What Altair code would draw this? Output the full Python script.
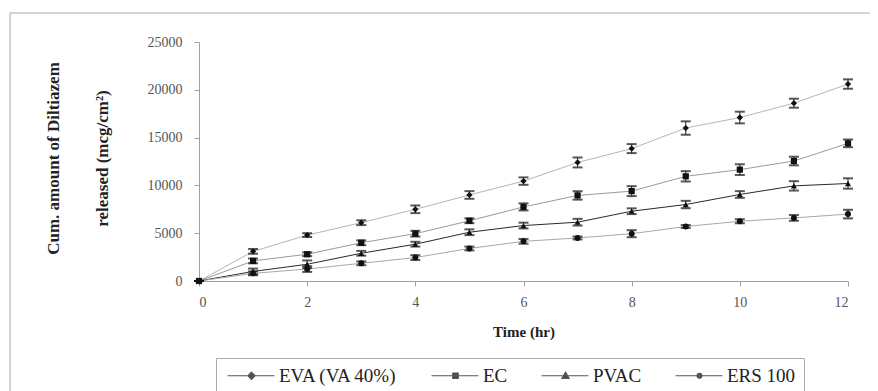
import altair as alt
import pandas as pd

hours = [0, 1, 2, 3, 4, 5, 6, 7, 8, 9, 10, 11, 12]
series_names = ["EVA (VA 40%)", "EC", "PVAC", "ERS 100"]

eva = [0, 3100, 4800, 6100, 7500, 9000, 10450, 12400, 13850, 16000, 17100, 18600, 20600]
ec = [0, 2100, 2800, 4000, 4950, 6300, 7750, 8950, 9400, 10950, 11650, 12550, 14400]
pvac = [0, 1000, 1750, 2900, 3850, 5100, 5800, 6150, 7300, 8000, 9050, 9950, 10200]
ers = [0, 800, 1250, 1850, 2450, 3400, 4150, 4500, 4950, 5700, 6250, 6600, 7000]

eva_err = [0, 250, 200, 250, 400, 400, 390, 520, 470, 700, 610, 470, 490]
ec_err = [0, 250, 200, 250, 300, 250, 370, 440, 520, 540, 560, 450, 400]
pvac_err = [0, 300, 400, 250, 250, 300, 300, 350, 300, 385, 350, 490, 540]
ers_err = [0, 200, 300, 200, 250, 200, 250, 150, 370, 150, 210, 300, 450]

values = [eva, ec, pvac, ers]
errors = [eva_err, ec_err, pvac_err, ers_err]

rows = []
for name, vals, errs in zip(series_names, values, errors):
    for t, v, e in zip(hours, vals, errs):
        rows.append({"time": t, "value": v, "lo": v - e, "hi": v + e,
                     "series": name, "series_leg": name})
df = pd.DataFrame(rows)

line_colors = ["#b5b5b5", "#9a9a9a", "#2a2a2a", "#a8a8a8"]
line_widths = [1.0, 1.0, 1.8, 1.0]
marker_shapes = ["diamond", "square", "triangle-up", "circle"]

# legend symbols: a horizontal line with the marker in its middle
LINE = "M-1,0L6.83,0"
legend_paths = [
    LINE + "M3,-0.6L3.6,0L3,0.6L2.4,0ZM3,-0.3L3.3,0L3,0.3L2.7,0Z",
    LINE + "M2.55,-0.45L3.45,-0.45L3.45,0.45L2.55,0.45ZM2.77,-0.2L3.23,-0.2L3.23,0.2L2.77,0.2Z",
    LINE + "M3,-0.6L3.6,0.45L2.4,0.45ZM3,-0.15L3.27,0.3L2.73,0.3Z",
    LINE + "M3.4,0A0.4,0.4 0 1,1 2.6,0A0.4,0.4 0 1,1 3.4,0ZM3.2,0A0.2,0.2 0 1,1 2.8,0A0.2,0.2 0 1,1 3.2,0Z",
]

SERIF = "Liberation Serif"

x_enc = alt.X("time:Q", scale=alt.Scale(domain=[0, 12], nice=False),
              axis=alt.Axis(values=[0, 2, 4, 6, 8, 10, 12], title="Time (hr)",
                            format="d", grid=False, tickSize=5, labelPadding=9,
                            titlePadding=15))
y_enc = alt.Y("value:Q", scale=alt.Scale(domain=[0, 25000], nice=False),
              axis=alt.Axis(values=[0, 5000, 10000, 15000, 20000, 25000],
                            title=["Cum. amount of Diltiazem", "released (mcg/cm²)"],
                            format="d", grid=False, tickSize=5, labelPadding=12,
                            titleAngle=-90, titleAlign="center",
                            titleBaseline="middle", titleLineHeight=49,
                            titleX=-146, titleY=116))

base = alt.Chart(df)

frame = alt.Chart(df).mark_rect(fill=None, stroke="#c8c8c8", strokeWidth=1.5).encode(
    x=alt.value(-189), x2=alt.value(700), y=alt.value(-29), y2=alt.value(400)
).transform_filter("datum.time == 0 && datum.series == 'EC'")

lines = base.mark_line().encode(
    x=x_enc, y=y_enc,
    color=alt.Color("series:N", scale=alt.Scale(domain=series_names, range=line_colors), legend=None),
    strokeWidth=alt.StrokeWidth("series:N", scale=alt.Scale(domain=series_names, range=line_widths), legend=None),
    detail="series:N",
)

errbars = base.mark_errorbar(ticks={"size": 10, "thickness": 2, "color": "#111"}, color="#222", thickness=1).encode(
    x=alt.X("time:Q", axis=None),
    y=alt.Y("lo:Q", axis=None),
    y2="hi:Q",
)

points = base.mark_point(filled=True, color="#111", opacity=1).encode(
    x=alt.X("time:Q", axis=None), y=alt.Y("value:Q", axis=None),
    shape=alt.Shape("series:N", scale=alt.Scale(domain=series_names, range=marker_shapes), legend=None),
    size=alt.Size("series:N", scale=alt.Scale(domain=series_names, range=[40, 36, 40, 30]), legend=None),
)

legend_layer = base.mark_point(filled=False, color="#555", fill="#111", strokeWidth=1.2).encode(
    x=alt.X("time:Q", axis=None), y=alt.Y("value:Q", axis=None),
    shape=alt.Shape("series_leg:N",
                    scale=alt.Scale(domain=series_names, range=legend_paths),
                    legend=alt.Legend(title=None, orient="none", direction="horizontal",
                                      legendX=17, legendY=316, columns=4,
                                      symbolSize=144, symbolStrokeWidth=1.2,
                                      symbolOpacity=1, labelOffset=36,
                                      labelFont=SERIF, labelFontSize=19, labelColor="#222",
                                      columnPadding=30, padding=8,
                                      strokeColor="#aaa", fillColor="white")),
).transform_filter("false")

chart = alt.layer(frame, lines, errbars, points, legend_layer).resolve_scale(
    shape="independent", color="independent", size="independent", strokeWidth="independent"
).resolve_axis(x="independent", y="independent").properties(
    width=649, height=239,
    autosize=alt.AutoSizeParams(type="none"),
    padding={"left": 191, "top": 34, "right": 22, "bottom": 110},
).configure_view(stroke=None).configure_axis(
    domainColor="#a0a0a0", tickColor="#a0a0a0",
    labelFont=SERIF, labelFontSize=14, labelColor="#555",
    titleFont=SERIF, titleFontWeight="bold", titleColor="#222",
).configure_axisX(titleFontSize=15).configure_axisY(titleFontSize=17)

chart.save("out.html", embed_options={"renderer": "svg", "actions": False})
